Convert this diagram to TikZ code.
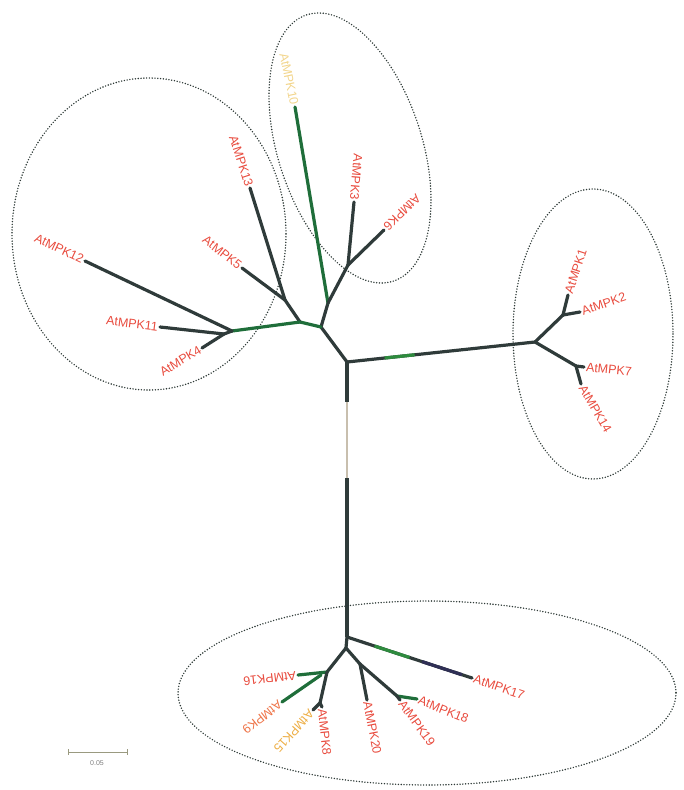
\documentclass[tikz,border=0pt]{standalone}
\usepackage{fontspec}
\setmainfont{Liberation Sans}
\usetikzlibrary{calc}
\definecolor{dk}{HTML}{2F3B3A}
\definecolor{gr}{HTML}{1F6E3A}
\definecolor{grl}{HTML}{2E8B3E}
\definecolor{pu}{HTML}{2F2F55}
\definecolor{lt}{HTML}{C8BFAE}
\definecolor{lbl}{HTML}{E84B3E}
\definecolor{lyel}{HTML}{F2D58C}
\definecolor{lorg}{HTML}{EDAE45}
\definecolor{lor2}{HTML}{EE7448}
\definecolor{ell}{HTML}{2E3A37}
\definecolor{sbc}{HTML}{9A9A80}
\begin{document}
\begin{tikzpicture}[x=1pt,y=-1pt,
  br/.style={line width=3.2pt, draw=dk, line cap=round, line join=round},
  brg/.style={br, draw=gr},
  lab/.style={text=lbl, font=\fontsize{12.5}{14}\selectfont, inner sep=2pt},
  labE/.style={lab, anchor=east},
  labW/.style={lab, anchor=west},
  grp/.style={draw=ell, line width=1.6pt, dash pattern=on 0pt off 2.8pt, line cap=round},
]
\useasboundingbox (0,0) rectangle (683,790);

% group ellipses
\draw[grp, rotate around={18:(350,148)}] (350,148) ellipse [x radius=72, y radius=140];
\draw[grp] (149,234) ellipse [x radius=137, y radius=156];
\draw[grp] (593,334) ellipse [x radius=80, y radius=145];
\draw[grp] (427,693) ellipse [x radius=249, y radius=92];

% internal nodes and tips
\coordinate (C1) at (347,362);
\coordinate (tA) at (347,402);
\coordinate (tB) at (347,478);
\coordinate (B0) at (347,637);
\coordinate (R) at (535,342);
\coordinate (N2) at (321,327);
\coordinate (N4) at (328,303);
\coordinate (N5) at (348,265);
\coordinate (t10) at (295,107);
\coordinate (t3) at (354,202);
\coordinate (t6) at (384,230);
\coordinate (N3) at (300,322);
\coordinate (N6) at (285,300);
\coordinate (t13) at (250,188);
\coordinate (t5) at (242,268);
\coordinate (N7) at (232,331);
\coordinate (N8) at (224,334);
\coordinate (t12) at (85,261);
\coordinate (t11) at (160,327);
\coordinate (t4) at (202,348);
\coordinate (R1) at (563,315);
\coordinate (t1) at (568,295);
\coordinate (t2) at (580,312);
\coordinate (R2) at (576,366);
\coordinate (t7) at (584,367);
\coordinate (t14) at (581,384);
\coordinate (t17) at (472,678);
\coordinate (B1) at (346,648);
\coordinate (B2) at (327,672);
\coordinate (B2a) at (321,675);
\coordinate (t16) at (298,675);
\coordinate (t9) at (282,702);
\coordinate (B2b) at (320,703);
\coordinate (t15) at (313,710);
\coordinate (t8) at (322,707);
\coordinate (B3) at (360,664);
\coordinate (t20) at (367,700);
\coordinate (B4) at (397,696);
\coordinate (t18) at (417,699);
\coordinate (t19) at (400,700);

% trunk
\draw[br, line cap=butt] (C1) -- (tA);
\draw[br, draw=lt, line width=2.4pt, line cap=butt] (tA) -- (tB);
\draw[br, line cap=butt] (tB) -- (B0);
% right clade
\draw[br] (C1) -- (R);
\draw[br, draw=grl, line cap=butt] ($(C1)!0.2!(R)$) -- ($(C1)!0.36!(R)$);
\draw[br] (R) -- (R1);
\draw[br] (R1) -- (t1);
\draw[br] (R1) -- (t2);
\draw[br] (R) -- (R2);
\draw[br] (R2) -- (t7);
\draw[br] (R2) -- (t14);
% top clade
\draw[br] (C1) -- (N2);
\draw[br] (N2) -- (N4);
\draw[brg] (N4) -- (t10);
\draw[br] (N4) -- (N5);
\draw[br] (N5) -- (t3);
\draw[br] (N5) -- (t6);
% left clade
\draw[brg] (N2) -- (N3);
\draw[br] (N3) -- (N6);
\draw[br] (N6) -- (t13);
\draw[br] (N6) -- (t5);
\draw[brg] (N3) -- (N7);
\draw[br] (N7) -- (t12);
\draw[br] (N7) -- (N8);
\draw[br] (N8) -- (t11);
\draw[br] (N8) -- (t4);
% bottom clade
\draw[br] (B0) -- (t17);
\draw[br, draw=grl, line cap=butt] ($(B0)!0.22!(t17)$) -- ($(B0)!0.5!(t17)$);
\draw[br, draw=pu, line cap=butt] ($(B0)!0.6!(t17)$) -- ($(B0)!0.92!(t17)$);
\draw[br] (B0) -- (B1);
\draw[br] (B1) -- (B2);
\draw[brg] (B2) -- (t16);
\draw[brg] (B2a) -- (t9);
\draw[br] (B2) -- (B2b);
\draw[br] (B2b) -- (t15);
\draw[br] (B2b) -- (t8);
\draw[br] (B1) -- (B3);
\draw[br] (B3) -- (t20);
\draw[br] (B3) -- (B4);
\draw[brg] (B4) -- (t18);
\draw[br] (B4) -- (t19);

% labels: left / top (text ends at tip)
\node[labE, rotate=-25.5] (L12) at (t12) {AtMPK12};
\node[labE, rotate=-7] (L11) at (t11) {AtMPK11};
\node[labE, rotate=31] (L4) at (t4) {AtMPK4};
\node[labE, rotate=-38] (L5) at (t5) {AtMPK5};
\node[labE, rotate=-72] (L13) at (t13) {AtMPK13};
\node[labE, rotate=-78, text=lyel] (L10) at (t10) {AtMPK10};
\node[labE, rotate=-95] (L3) at (t3) {AtMPK3};
\node[labE, rotate=224] (L6) at (t6) {AtMPK6};
% right
\node[labW, rotate=72] (L1) at (t1) {AtMPK1};
\node[labW, rotate=19] (L2) at (t2) {AtMPK2};
\node[labW, rotate=-6] (L7) at (t7) {AtMPK7};
\node[labW, rotate=-60] (L14) at (t14) {AtMPK14};
% bottom
\node[labW, rotate=-19] (L17) at (t17) {AtMPK17};
\node[labW, rotate=-22] (L18) at (t18) {AtMPK18};
\node[labW, rotate=-54] (L19) at (t19) {AtMPK19};
\node[labW, rotate=-79] (L20) at (t20) {AtMPK20};
\node[labW, rotate=-84] (L8) at (t8) {AtMPK8};
\node[labW, rotate=228, text=lorg] (L15) at (t15) {AtMPK15};
\node[labW, rotate=218, text=lor2] (L9) at (t9) {AtMPK9};
\node[labW, rotate=187] (L16) at (t16) {AtMPK16};

% scale bar
\coordinate (s1) at (68,752);
\coordinate (s2) at (127,752);
\draw[sbc, line width=0.9pt] (s1) -- (s2);
\draw[sbc, line width=0.9pt] ($(s1)+(0,-3)$) -- ($(s1)+(0,3)$);
\draw[sbc, line width=0.9pt] ($(s2)+(0,-3)$) -- ($(s2)+(0,3)$);
\node[text=gray, font=\fontsize{7}{8}\selectfont] (sl) at (97,763) {0.05};
\end{tikzpicture}
\end{document}
